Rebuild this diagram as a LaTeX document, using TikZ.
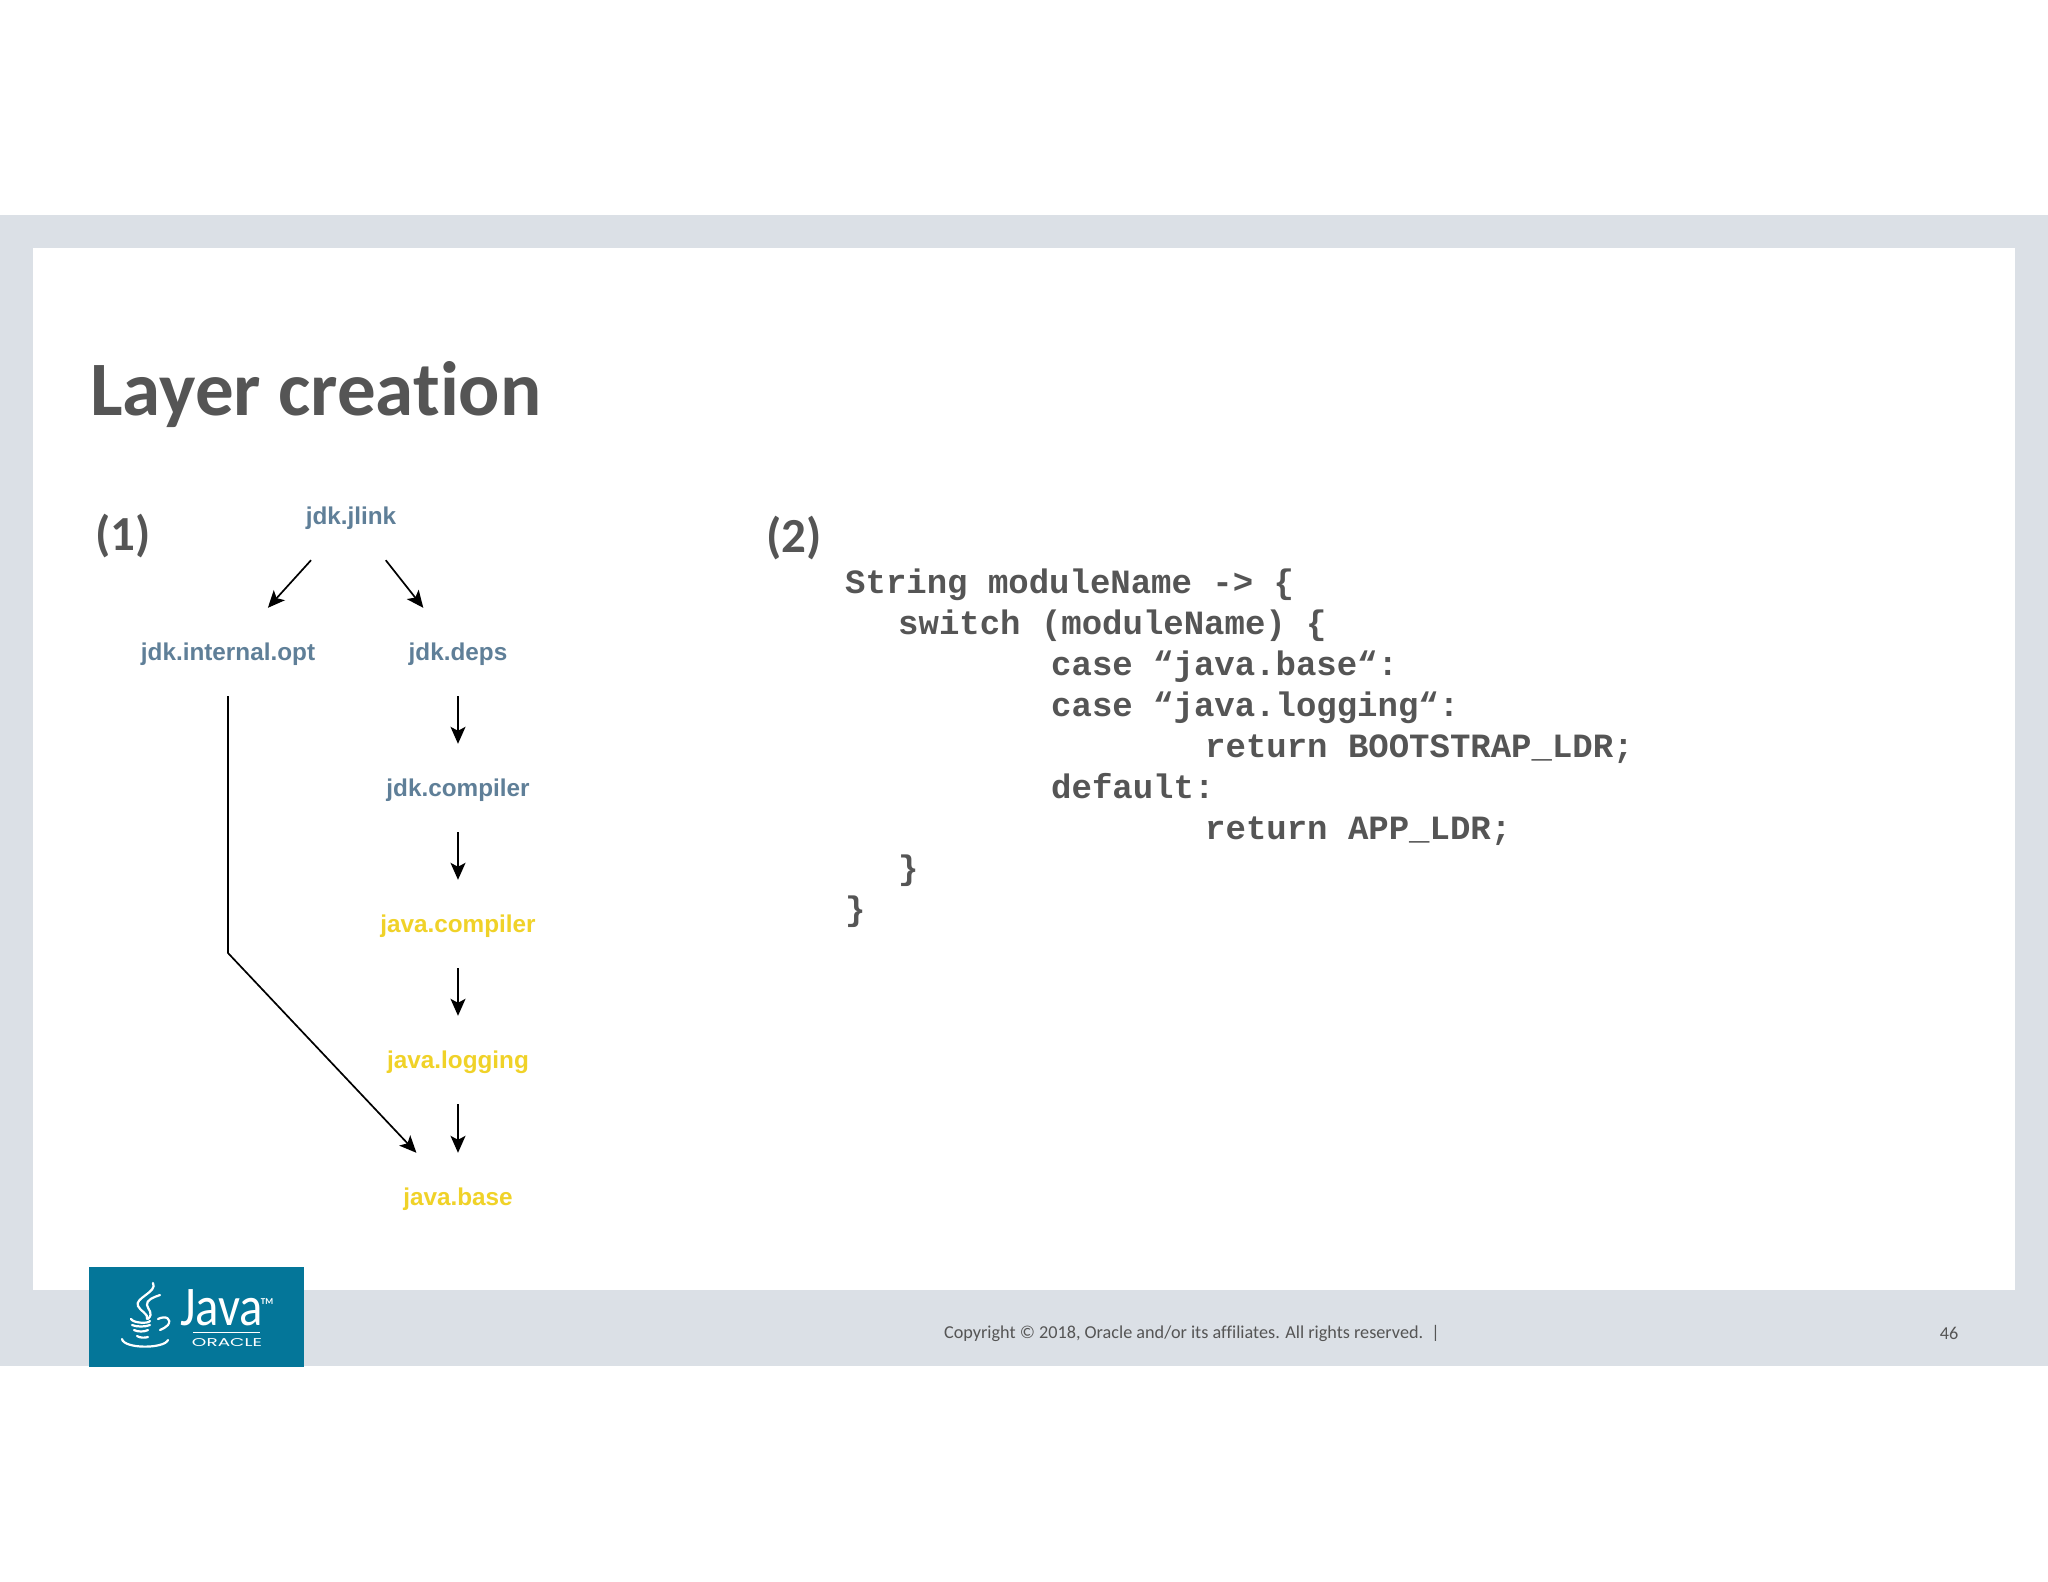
\documentclass[tikz,border=0pt]{standalone}
\usepackage{fontspec}
\setmainfont[Ligatures=NoCommon]{Carlito}
\newfontfamily\modfont{Liberation Sans}
\newfontfamily\codefont{Liberation Mono}
\newfontfamily\oraclefont{Poppins}
\usetikzlibrary{arrows.meta,positioning}
\definecolor{bandgray}{HTML}{DBE0E6}
\definecolor{titlegray}{HTML}{555555}
\definecolor{jdkblue}{HTML}{5F7F98}
\definecolor{javayellow}{HTML}{F0D228}
\definecolor{logoblue}{HTML}{047699}
\begin{document}
\begin{tikzpicture}[
    >={Stealth[length=17pt,width=15pt,inset=4pt]},
    x=1pt, y=-1pt,
    jdkmod/.style={inner sep=0pt,minimum width=90pt,minimum height=88pt,
                   text height=24pt,text depth=7pt,
                   font=\fontsize{24.3}{25}\selectfont\modfont\bfseries,text=jdkblue},
    javamod/.style={jdkmod,text=javayellow},
    dep/.style={->,black,line width=1.7pt},
    codeline/.style={anchor=base west,inner sep=0pt,text=titlegray,
                     font=\fontsize{34}{34}\selectfont\codefont\bfseries},
    marker/.style={anchor=center,inner sep=0pt,text=titlegray,
                   font=\fontsize{49}{49}\selectfont\bfseries},
    footer/.style={anchor=center,inner sep=0pt,text=titlegray,
                   font=\fontsize{18.2}{19}\selectfont},
    cupline/.style={white,line width=2.2pt,line cap=round},
  ]
  \useasboundingbox (0,0) rectangle (2048,1582);

  % --- slide frame ---
  \fill[white] (0,0) rectangle (2048,1582);
  \fill[bandgray] (0,215) rectangle (2048,1366);
  \fill[white] (33,248) rectangle (2015,1290);
  \node[anchor=base west,inner sep=0pt,text=titlegray,
        font=\fontsize{77}{77}\selectfont\bfseries] (title) at (90,415) {Layer creation};

  % --- module graph ---
  \node[marker] (one) at (123,536) {(1)};
  \node[jdkmod]  (jlink)    at (351,516)  {jdk.jlink};
  \node[jdkmod]  (internal) at (228,652)  {jdk.internal.opt};
  \node[jdkmod]  (deps)     at (458,652)  {jdk.deps};
  \node[jdkmod]  (jcomp)    at (458,788)  {jdk.compiler};
  \node[javamod] (jvcomp)   at (458,924)  {java.compiler};
  \node[javamod] (logging)  at (458,1060) {java.logging};
  \node[javamod] (base)     at (458,1197) {java.base};
  \coordinate (bend) at (228,953);

  \draw[dep] (jlink) -- (internal);
  \draw[dep] (jlink) -- (deps);
  \draw[dep] (deps) -- (jcomp);
  \draw[dep] (jcomp) -- (jvcomp);
  \draw[dep] (jvcomp) -- (logging);
  \draw[dep] (logging) -- (base);
  \draw[dep] (internal) -- (bend) -- (base);

  % --- code listing ---
  \node[marker] (two) at (794,538) {(2)};
  \node[codeline] (c1) at (845,593) {String moduleName -> \{};
  \node[codeline] (c2) at (898,634) {switch (moduleName) \{};
  \node[codeline] (c3) at (1051,675) {case “java.base“:};
  \node[codeline] (c4) at (1051,716) {case “java.logging“:};
  \node[codeline] (c5) at (1205,757) {return BOOTSTRAP\_LDR;};
  \node[codeline] (c6) at (1051,798) {default:};
  \node[codeline] (c7) at (1205,839) {return APP\_LDR;};
  \node[codeline] (c8) at (898,879) {\}};
  \node[codeline] (c9) at (845,920) {\}};

  % --- footer ---
  \node[footer] (copy) at (1192,1333) {Copyright © 2018, Oracle and/or its affiliates. All rights reserved.~~|};
  \node[footer] (page) at (1949,1333) {46};

  % --- logo ---
  \fill[logoblue] (89,1267) rectangle (304,1367);
  \node[anchor=base west,inner sep=0pt,text=white,font=\fontsize{56}{56}\selectfont] (java) at (180,1325) {\scalebox{.87}[1]{Java}};
  \node[anchor=center,inner sep=0pt,text=white,font=\fontsize{9}{9}\selectfont\bfseries] (tm) at (267,1302) {TM};
  \node[anchor=center,inner sep=0pt,text=white,font=\oraclefont] (oracle) at (227,1343) {\resizebox{70pt}{8pt}{ORACLE}};
  \draw[white,line width=.8pt] (193,1332) -- (260,1332);
  % steam
  \draw[cupline] (153,1283) .. controls (158,1292) and (134,1298) .. (138,1306) .. controls (140,1311) and (149,1314) .. (147,1319);
  \draw[cupline] (160,1295) .. controls (154,1297) and (146,1300) .. (147,1305) .. controls (148,1310) and (154,1313) .. (148,1319);
  % cup
  \draw[cupline] (131,1319) .. controls (133,1323) and (148,1324) .. (150,1321);
  \draw[cupline] (132,1325) .. controls (136,1327) and (146,1327) .. (150,1325);
  \draw[cupline] (134,1330) .. controls (138,1332) and (144,1332) .. (148,1330);
  \draw[cupline] (137,1336) .. controls (140,1338) and (145,1338) .. (148,1337);
  \draw[cupline] (158,1319) .. controls (166,1315) and (172,1319) .. (168,1325) .. controls (166,1327) and (163,1329) .. (160,1330);
  \draw[cupline] (122,1339) .. controls (124,1349) and (164,1349) .. (168,1340);
\end{tikzpicture}
\end{document}
